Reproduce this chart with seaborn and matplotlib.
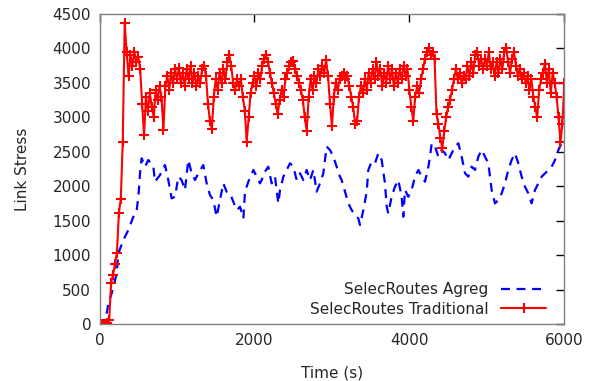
import numpy as np
import pandas as pd
import matplotlib
matplotlib.use("Agg")
import matplotlib.pyplot as plt
import seaborn as sns

# SelecRoutes Traditional, sampled every 25 s
trad_time = np.arange(0, 6001, 25)
trad_stress = [
    0, 0, 0, 0, 20, 60, 600, 720, 880, 1040, 1620, 1820, 2650, 4370, 3950, 3600,
    3900, 3750, 3950, 3800, 3880, 3700, 3200, 2740, 3300, 3100, 3350, 3150, 3000,
    3400, 3250, 3450, 3300, 2820, 3450, 3600, 3400, 3650, 3500, 3700, 3550, 3720,
    3500, 3650, 3450, 3700, 3550, 3750, 3500, 3650, 3450, 3600, 3500, 3700, 3750,
    3600, 3200, 2950, 2830, 3300, 3550, 3400, 3650, 3500, 3700, 3550, 3800, 3900,
    3750, 3500, 3400, 3550, 3450, 3550, 3300, 3100, 2650, 3000, 3350, 3500, 3600,
    3450, 3650, 3550, 3750, 3850, 3900, 3800, 3650, 3500, 3350, 3200, 3050, 3250,
    3400, 3300, 3550, 3650, 3750, 3800, 3820, 3700, 3600, 3500, 3400, 3250, 3000,
    2800, 3300, 3550, 3400, 3600, 3500, 3700, 3600, 3750, 3650, 3830, 3600, 3200,
    2870, 3300, 3500, 3400, 3550, 3600, 3650, 3550, 3600, 3450, 3300, 3150, 2900,
    2950, 3300, 3450, 3350, 3550, 3400, 3650, 3500, 3700, 3550, 3800, 3600, 3700,
    3450, 3650, 3500, 3750, 3550, 3700, 3450, 3650, 3500, 3700, 3550, 3750, 3600,
    3700, 3400, 3150, 2950, 3300, 3450, 3350, 3550, 3700, 3850, 3950, 4000, 3900,
    3950, 3850, 3050, 2900, 2700, 2550, 2800, 3000, 3150, 3250, 3400, 3550, 3700,
    3550, 3650, 3500, 3600, 3550, 3750, 3600, 3800, 3650, 3900, 3950, 3750, 3850,
    3700, 3850, 3750, 3950, 3700, 3800, 3600, 3800, 3650, 3850, 3700, 3950, 4000,
    3800, 3650, 3850, 3950, 3750, 3600, 3700, 3550, 3650, 3500, 3600, 3400, 3550,
    3300, 3150, 3000, 3400, 3550, 3650, 3780, 3500, 3700, 3350, 3650, 3500, 3300,
    3000, 2650, 2900, 3500,
]

# SelecRoutes Agreg
agreg_time = [
    0, 60, 100, 114, 157, 222, 243, 308, 372, 437, 480, 502, 523, 544, 587, 630,
    695, 716, 781, 845, 888, 931, 975, 1018, 1060, 1103, 1146, 1190, 1233, 1276,
    1340, 1383, 1426, 1469, 1512, 1555, 1598, 1641, 1684, 1728, 1771, 1814, 1857,
    1878, 1921, 1986, 2029, 2072, 2093, 2136, 2179, 2222, 2265, 2308, 2330, 2373,
    2416, 2459, 2502, 2545, 2588, 2631, 2674, 2717, 2760, 2803, 2846, 2889, 2932,
    2975, 3018, 3061, 3104, 3126, 3169, 3212, 3255, 3298, 3341, 3362, 3406, 3449,
    3470, 3513, 3556, 3599, 3642, 3685, 3707, 3728, 3771, 3814, 3857, 3900, 3922,
    3943, 3986, 4029, 4072, 4116, 4159, 4202, 4245, 4266, 4288, 4331, 4374, 4417,
    4460, 4503, 4546, 4589, 4632, 4675, 4718, 4761, 4804, 4847, 4890, 4933, 4976,
    5019, 5062, 5105, 5148, 5191, 5234, 5277, 5320, 5363, 5406, 5449, 5492, 5535,
    5578, 5621, 5664, 5708, 5751, 5794, 5837, 5880, 5923, 5966, 6000,
]
agreg_stress = [
    0, 0, 200, 304, 449, 739, 1029, 1222, 1367, 1560, 1657, 1850, 2190, 2407,
    2286, 2383, 2286, 2068, 2165, 2310, 2092, 1826, 1850, 2141, 2092, 1947, 2383,
    2190, 2092, 2190, 2310, 2044, 1875, 1802, 1560, 1802, 2044, 1923, 1899, 1778,
    1657, 1705, 1536, 1923, 2068, 2238, 2141, 2044, 2092, 2214, 2286, 2044, 2141,
    1754, 1947, 2141, 2238, 2335, 2286, 2092, 2190, 2092, 2238, 2092, 2238, 1923,
    2044, 2190, 2577, 2528, 2431, 2286, 2141, 2092, 1923, 1754, 1657, 1585, 1536,
    1440, 1657, 1923, 2238, 2359, 2335, 2480, 2383, 2044, 1705, 1608, 1850, 1996,
    2092, 1850, 1560, 1947, 1850, 1947, 2141, 2238, 2141, 2068, 2286, 2431, 2625,
    2577, 2431, 2528, 2480, 2383, 2480, 2577, 2625, 2431, 2190, 2141, 2286, 2238,
    2431, 2528, 2431, 2335, 1947, 1754, 1802, 1899, 2044, 2238, 2383, 2480, 2335,
    2141, 1996, 1899, 1754, 1947, 2044, 2141, 2190, 2238, 2286, 2383, 2528, 2625,
    2650,
]

sns.set_theme(style="white")
plt.rcParams["font.family"] = ["DejaVu Sans"]

fig = plt.figure(figsize=(5.98, 3.81), dpi=100)
ax = fig.add_axes([0.1664, 0.1488, 0.7773, 0.8145])

sns.lineplot(x=agreg_time, y=agreg_stress, ax=ax, color="#0000ff",
             linewidth=1.6, linestyle=(0, (4, 3)), label="SelecRoutes Agreg")
sns.lineplot(x=list(trad_time), y=trad_stress, ax=ax, color="#ff0000",
             linewidth=1.5, marker="+", markersize=7.5, markeredgewidth=1.5,
             markeredgecolor="#ff0000", label="SelecRoutes Traditional")

ax.set_xlim(0, 6000)
ax.set_ylim(0, 4500)
ax.set_xticks([0, 2000, 4000, 6000])
ax.set_yticks(np.arange(0, 4501, 500))
ax.tick_params(direction="in", length=6, width=1, color="black",
               top=True, right=True, labelsize=11, pad=6)
for s in ax.spines.values():
    s.set_color("#808080")
    s.set_linewidth(1)
ax.set_xlabel("Time (s)", fontsize=11, labelpad=12.5)
ax.set_ylabel("Link Stress", fontsize=11, labelpad=16)

ax.legend(loc="lower right", bbox_to_anchor=(0.978, 0.0), frameon=False,
          markerfirst=False, fontsize=11, handlelength=3.0,
          labelspacing=0.3, borderaxespad=0.1)

fig.savefig("out.png", dpi=100)
